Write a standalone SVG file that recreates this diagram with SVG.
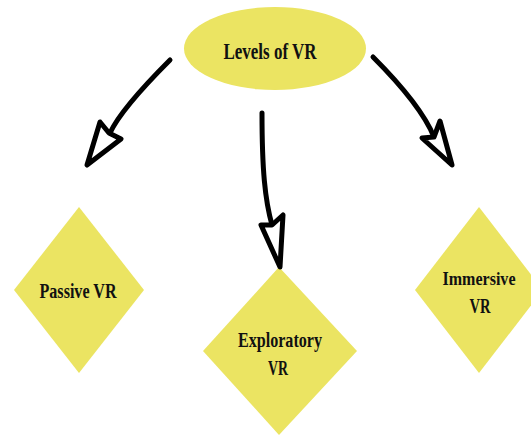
<svg xmlns="http://www.w3.org/2000/svg" width="531" height="436" viewBox="0 0 531 436">
  <style>
    .shape { fill: #ebe462; stroke: none; }
    .label { font-family: "Liberation Serif", "Times New Roman", serif; font-weight: bold; fill: #111; text-anchor: middle; }
    .shaft { fill: none; stroke: #000; stroke-width: 5; stroke-linecap: round; }
    .head { fill: #fff; stroke: #000; stroke-width: 5; stroke-linejoin: round; }
  </style>
  <rect width="531" height="436" fill="#fff"/>

  <g id="node-levels">
    <ellipse class="shape" cx="275" cy="48.5" rx="91" ry="41.5"/>
    <text class="label" x="270" y="59" font-size="23" textLength="93" lengthAdjust="spacingAndGlyphs">Levels of VR</text>
  </g>

  <g id="node-passive">
    <polygon class="shape" points="79,207 144,290 79,373 14,290"/>
    <text class="label" x="78" y="298" font-size="21" textLength="77" lengthAdjust="spacingAndGlyphs">Passive VR</text>
  </g>

  <g id="node-exploratory">
    <polygon class="shape" points="279,267 357,351 279,435 203,351"/>
    <text class="label" x="280" y="347" font-size="20" textLength="84" lengthAdjust="spacingAndGlyphs">Exploratory</text>
    <text class="label" x="278" y="375" font-size="20" textLength="20" lengthAdjust="spacingAndGlyphs">VR</text>
  </g>

  <g id="node-immersive">
    <polygon class="shape" points="479,207 543,290 479,373 415,290"/>
    <text class="label" x="479" y="285" font-size="19" textLength="73" lengthAdjust="spacingAndGlyphs">Immersive</text>
    <text class="label" x="480" y="313" font-size="20" textLength="21" lengthAdjust="spacingAndGlyphs">VR</text>
  </g>

  <g id="connectors">
    <!-- left: levels to passive -->
    <path class="shaft" d="M170,60 Q121,109 110,133"/>
    <polygon class="head" points="87,165 100,122 109,133 121,139"/>
    <!-- middle: levels to exploratory -->
    <path class="shaft" d="M262,113 C262,170 265,200 272,225"/>
    <polygon class="head" points="280,267 261,225 272,225 283,215"/>
    <!-- right: levels to immersive -->
    <path class="shaft" d="M373,57 Q421,105 434,137"/>
    <polygon class="head" points="452,165 422,138 434,137 440,121"/>
  </g>
</svg>
